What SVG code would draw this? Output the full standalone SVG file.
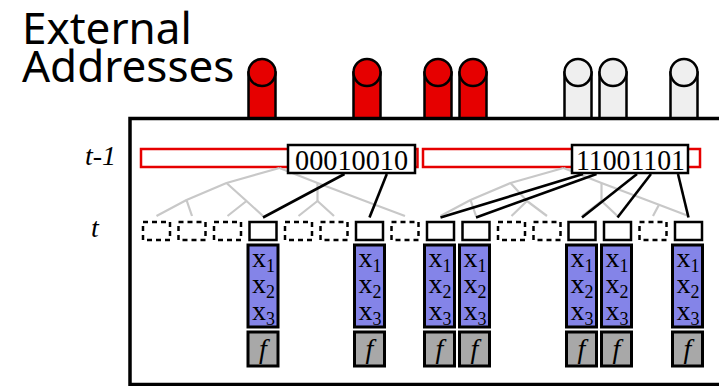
<svg xmlns="http://www.w3.org/2000/svg" width="719" height="386" viewBox="0 0 719 386">
  <style>
    .frame { fill: none; stroke: #000; stroke-width: 3.5; }
    .cyl-on { fill: #e60000; stroke: #000; stroke-width: 2.5; }
    .cyl-off { fill: #efefef; stroke: #000; stroke-width: 2.5; }
    .bar { fill: #fff; stroke: #e60000; stroke-width: 2.5; }
    .label { fill: #fff; stroke: #000; stroke-width: 2.5; }
    .bits { font-family: "Liberation Serif", "Times New Roman", serif; font-size: 30px; fill: #000; }
    .tree { fill: none; stroke: #c8c8c8; stroke-width: 2.2; stroke-linejoin: round; }
    .link { fill: none; stroke: #000; stroke-width: 2.6; }
    .slot { fill: #fff; stroke: #000; stroke-width: 2.5; }
    .slot-empty { fill: #fff; stroke: #000; stroke-width: 2.5; stroke-dasharray: 5 4; }
    .vars { fill: #8484e8; stroke: #000; stroke-width: 3; }
    .fn { fill: #a8a8a8; stroke: #000; stroke-width: 3; }
    .serif { font-family: "Liberation Serif", "Times New Roman", serif; fill: #000; }
    .xv { font-size: 28px; }
    .sub { font-size: 18px; }
    .fi { font-size: 28px; font-style: italic; }
    .title { font-family: "Noto Sans", "Open Sans", sans-serif; font-size: 44px; fill: #000; }
    .time { font-family: "Liberation Serif", "Times New Roman", serif; font-style: italic; font-size: 28px; fill: #000; }
  </style>

  <!-- heading -->
  <g id="title">
    <text class="title" x="22" y="44">External</text>
    <text class="title" x="22" y="82">Addresses</text>
  </g>

  <!-- time step labels -->
  <g id="time-labels">
    <text class="time" x="85" y="165">t-1</text>
    <text class="time" x="91" y="237">t</text>
  </g>

  <!-- enclosing frame (runs off the right edge) -->
  <g id="frame">
    <rect class="frame" x="130" y="118.5" width="610" height="266"/>
  </g>

  <!-- external address pins -->
  <g id="pins">
    <g id="pin-3"><rect class="cyl-on" x="248.5" y="72.5" width="27" height="45.5"/><circle class="cyl-on" cx="262" cy="72.5" r="13.5"/></g>
    <g id="pin-6"><rect class="cyl-on" x="353.5" y="72.5" width="27" height="45.5"/><circle class="cyl-on" cx="367" cy="72.5" r="13.5"/></g>
    <g id="pin-8"><rect class="cyl-on" x="424.5" y="72.5" width="27" height="45.5"/><circle class="cyl-on" cx="438" cy="72.5" r="13.5"/></g>
    <g id="pin-9"><rect class="cyl-on" x="459.5" y="72.5" width="27" height="45.5"/><circle class="cyl-on" cx="473" cy="72.5" r="13.5"/></g>
    <g id="pin-12"><rect class="cyl-off" x="564.5" y="72.5" width="27" height="45.5"/><circle class="cyl-off" cx="578" cy="72.5" r="13.5"/></g>
    <g id="pin-13"><rect class="cyl-off" x="599.5" y="72.5" width="27" height="45.5"/><circle class="cyl-off" cx="613" cy="72.5" r="13.5"/></g>
    <g id="pin-15"><rect class="cyl-off" x="670.5" y="72.5" width="27" height="45.5"/><circle class="cyl-off" cx="684" cy="72.5" r="13.5"/></g>
  </g>

  <!-- previous-step address bars -->
  <g id="bar-left"><rect class="bar" x="141" y="149" width="276.5" height="18"/></g>
  <g id="bar-right"><rect class="bar" x="423" y="149" width="277" height="18"/></g>

  <!-- decoding trees and bit links -->
  <g id="connectors">
    <g id="tree-left" class="tree">
      <polyline points="279.5,168 226.5,183 186.5,200 156.5,216"/>
      <polyline points="226.5,183 246.5,201"/>
      <polyline points="227.5,216 246.5,201 263,216"/>
      <polyline points="186.5,200 192,216"/>
      <polyline points="279.5,168 317.5,183 375,204.7 405,216"/>
      <polyline points="317.5,183 317.5,201"/>
      <polyline points="298.5,216 317.5,201 334,216"/>
      <polyline points="375,204.7 369.5,216"/>
    </g>
    <g id="tree-right" class="tree">
      <polyline points="563.5,168 510.5,183 470.5,200 440.5,216"/>
      <polyline points="510.5,183 527,201"/>
      <polyline points="511.5,216 527,201 547,216"/>
      <polyline points="470.5,200 476,216"/>
      <polyline points="563.5,168 601.5,183 659,204.7 688.5,216"/>
      <polyline points="601.5,183 601.5,201"/>
      <polyline points="582,216 601.5,201 617.5,216"/>
      <polyline points="659,204.7 653,216"/>
    </g>
    <g id="links">
      <line class="link" x1="344.5" y1="174" x2="263" y2="217.5"/>
      <line class="link" x1="386.8" y1="174" x2="369.5" y2="217.5"/>
      <line class="link" x1="583" y1="174" x2="440.5" y2="217.5"/>
      <line class="link" x1="596.5" y1="174" x2="476" y2="217.5"/>
      <line class="link" x1="637" y1="174" x2="582" y2="217.5"/>
      <line class="link" x1="651" y1="174" x2="617.5" y2="217.5"/>
      <line class="link" x1="678" y1="174" x2="688.5" y2="217.5"/>
    </g>
  </g>

  <!-- bit-string labels -->
  <g id="label-left">
    <rect class="label" x="288" y="145" width="127" height="28"/>
    <text class="bits" x="295" y="170" textLength="113" lengthAdjust="spacingAndGlyphs">00010010</text>
  </g>
  <g id="label-right">
    <rect class="label" x="572" y="145" width="116" height="28"/>
    <text class="bits" x="576" y="170" textLength="109" lengthAdjust="spacingAndGlyphs">11001101</text>
  </g>

  <!-- current-step slots -->
  <g id="slots">
    <rect class="slot-empty" x="143" y="222" width="27" height="18"/>
    <rect class="slot-empty" x="178.5" y="222" width="27" height="18"/>
    <rect class="slot-empty" x="214" y="222" width="27" height="18"/>
    <rect class="slot" x="249.5" y="222" width="27" height="18"/>
    <rect class="slot-empty" x="285" y="222" width="27" height="18"/>
    <rect class="slot-empty" x="320.5" y="222" width="27" height="18"/>
    <rect class="slot" x="356" y="222" width="27" height="18"/>
    <rect class="slot-empty" x="391.5" y="222" width="27" height="18"/>
    <rect class="slot" x="427" y="222" width="27" height="18"/>
    <rect class="slot" x="462.5" y="222" width="27" height="18"/>
    <rect class="slot-empty" x="498" y="222" width="27" height="18"/>
    <rect class="slot-empty" x="533.5" y="222" width="27" height="18"/>
    <rect class="slot" x="568.5" y="222" width="27" height="18"/>
    <rect class="slot" x="604" y="222" width="27" height="18"/>
    <rect class="slot-empty" x="639.5" y="222" width="27" height="18"/>
    <rect class="slot" x="675" y="222" width="27" height="18"/>
  </g>

  <!-- variable stacks and functions under active slots -->
  <g id="unit-3">
    <rect class="vars" x="248" y="245" width="30" height="82"/>
    <text class="serif xv" x="252" y="267">x<tspan class="sub" dy="5">1</tspan></text>
    <text class="serif xv" x="252" y="293">x<tspan class="sub" dy="5">2</tspan></text>
    <text class="serif xv" x="252" y="320">x<tspan class="sub" dy="5">3</tspan></text>
    <rect class="fn" x="248" y="332" width="30" height="34"/>
    <text class="serif fi" x="263" y="358" text-anchor="middle">f</text>
  </g>
  <g id="unit-6">
    <rect class="vars" x="354.5" y="245" width="30" height="82"/>
    <text class="serif xv" x="358.5" y="267">x<tspan class="sub" dy="5">1</tspan></text>
    <text class="serif xv" x="358.5" y="293">x<tspan class="sub" dy="5">2</tspan></text>
    <text class="serif xv" x="358.5" y="320">x<tspan class="sub" dy="5">3</tspan></text>
    <rect class="fn" x="354.5" y="332" width="30" height="34"/>
    <text class="serif fi" x="369.5" y="358" text-anchor="middle">f</text>
  </g>
  <g id="unit-8">
    <rect class="vars" x="424.5" y="245" width="30" height="82"/>
    <text class="serif xv" x="428.5" y="267">x<tspan class="sub" dy="5">1</tspan></text>
    <text class="serif xv" x="428.5" y="293">x<tspan class="sub" dy="5">2</tspan></text>
    <text class="serif xv" x="428.5" y="320">x<tspan class="sub" dy="5">3</tspan></text>
    <rect class="fn" x="424.5" y="332" width="30" height="34"/>
    <text class="serif fi" x="439.5" y="358" text-anchor="middle">f</text>
  </g>
  <g id="unit-9">
    <rect class="vars" x="459.5" y="245" width="30" height="82"/>
    <text class="serif xv" x="463.5" y="267">x<tspan class="sub" dy="5">1</tspan></text>
    <text class="serif xv" x="463.5" y="293">x<tspan class="sub" dy="5">2</tspan></text>
    <text class="serif xv" x="463.5" y="320">x<tspan class="sub" dy="5">3</tspan></text>
    <rect class="fn" x="459.5" y="332" width="30" height="34"/>
    <text class="serif fi" x="474.5" y="358" text-anchor="middle">f</text>
  </g>
  <g id="unit-12">
    <rect class="vars" x="566.5" y="245" width="30" height="82"/>
    <text class="serif xv" x="570.5" y="267">x<tspan class="sub" dy="5">1</tspan></text>
    <text class="serif xv" x="570.5" y="293">x<tspan class="sub" dy="5">2</tspan></text>
    <text class="serif xv" x="570.5" y="320">x<tspan class="sub" dy="5">3</tspan></text>
    <rect class="fn" x="566.5" y="332" width="30" height="34"/>
    <text class="serif fi" x="581.5" y="358" text-anchor="middle">f</text>
  </g>
  <g id="unit-13">
    <rect class="vars" x="601.5" y="245" width="30" height="82"/>
    <text class="serif xv" x="605.5" y="267">x<tspan class="sub" dy="5">1</tspan></text>
    <text class="serif xv" x="605.5" y="293">x<tspan class="sub" dy="5">2</tspan></text>
    <text class="serif xv" x="605.5" y="320">x<tspan class="sub" dy="5">3</tspan></text>
    <rect class="fn" x="601.5" y="332" width="30" height="34"/>
    <text class="serif fi" x="616.5" y="358" text-anchor="middle">f</text>
  </g>
  <g id="unit-15">
    <rect class="vars" x="672.5" y="245" width="30" height="82"/>
    <text class="serif xv" x="676.5" y="267">x<tspan class="sub" dy="5">1</tspan></text>
    <text class="serif xv" x="676.5" y="293">x<tspan class="sub" dy="5">2</tspan></text>
    <text class="serif xv" x="676.5" y="320">x<tspan class="sub" dy="5">3</tspan></text>
    <rect class="fn" x="672.5" y="332" width="30" height="34"/>
    <text class="serif fi" x="687.5" y="358" text-anchor="middle">f</text>
  </g>
</svg>
